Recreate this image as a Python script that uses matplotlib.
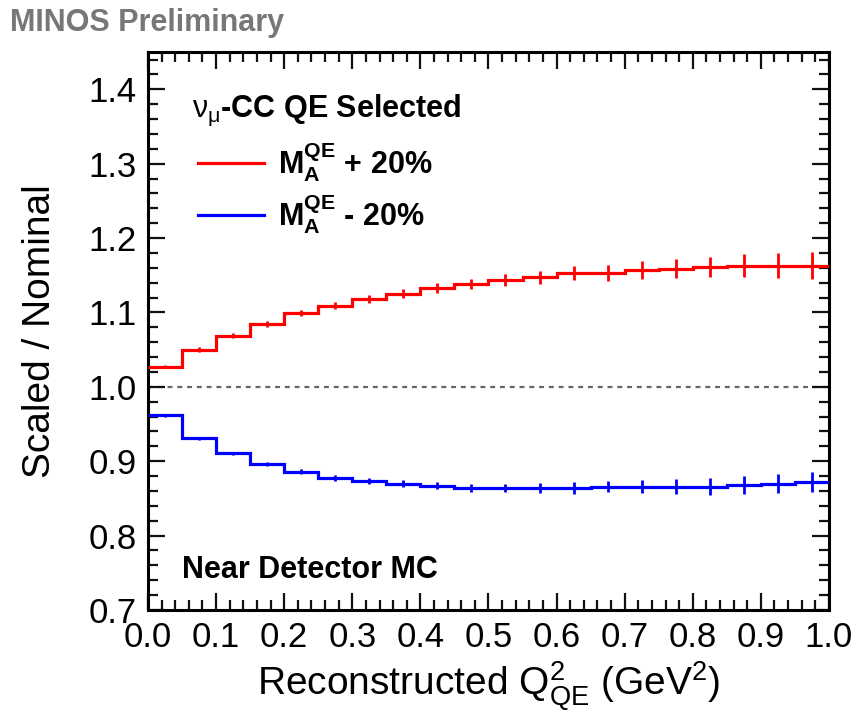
import numpy as np
import matplotlib
matplotlib.use("Agg")
import matplotlib.pyplot as plt
from matplotlib.ticker import MultipleLocator
from matplotlib.lines import Line2D

plt.rcParams['font.family'] = ['Liberation Sans', 'DejaVu Sans']
plt.rcParams['mathtext.fontset'] = 'custom'
plt.rcParams['mathtext.rm'] = 'Liberation Sans'
plt.rcParams['mathtext.it'] = 'Liberation Sans:italic'
plt.rcParams['mathtext.bf'] = 'Liberation Sans:bold'

# Q2 bins (GeV^2)
bin_edges = np.linspace(0.0, 1.0, 21)

# M_A + 20% ratio
ratio_up = [1.027, 1.050, 1.069, 1.084, 1.099, 1.109, 1.118, 1.125, 1.133, 1.138,
            1.144, 1.147, 1.153, 1.153, 1.157, 1.159, 1.161, 1.163, 1.163, 1.163]
err_up = [0.002, 0.003, 0.003, 0.004, 0.004, 0.005, 0.005, 0.006, 0.007, 0.007,
          0.008, 0.009, 0.010, 0.011, 0.012, 0.013, 0.014, 0.015, 0.017, 0.018]

# M_A - 20% ratio
ratio_down = [0.962, 0.931, 0.911, 0.896, 0.886, 0.877, 0.873, 0.870, 0.867, 0.864,
              0.864, 0.864, 0.864, 0.866, 0.866, 0.866, 0.866, 0.868, 0.870, 0.872]
err_down = [0.002, 0.002, 0.002, 0.003, 0.003, 0.004, 0.004, 0.005, 0.005, 0.006,
            0.006, 0.007, 0.008, 0.008, 0.009, 0.010, 0.011, 0.012, 0.013, 0.014]

centers = 0.5 * (bin_edges[:-1] + bin_edges[1:])

fig = plt.figure(figsize=(8.68, 7.24), dpi=100)
ax = fig.add_axes([0.1705, 0.1575, 0.955 - 0.1705, 0.928 - 0.1575])

ax.axhline(1.0, color='#666666', lw=1.6, ls=(0, (2.2, 2.2)), zorder=1)

ax.stairs(ratio_up, bin_edges, baseline=None, color='#ff0000', lw=2.3, zorder=3)
ax.errorbar(centers, ratio_up, yerr=err_up, fmt='none', ecolor='#ff0000',
            elinewidth=2, capsize=0, zorder=3)
ax.stairs(ratio_down, bin_edges, baseline=None, color='#0000ff', lw=2.3, zorder=3)
ax.errorbar(centers, ratio_down, yerr=err_down, fmt='none', ecolor='#0000ff',
            elinewidth=2, capsize=0, zorder=3)

ax.set_xlim(0.0, 1.0)
ax.set_ylim(0.7, 1.45)
ax.xaxis.set_major_locator(MultipleLocator(0.1))
ax.xaxis.set_minor_locator(MultipleLocator(0.02))
ax.yaxis.set_major_locator(MultipleLocator(0.1))
ax.yaxis.set_minor_locator(MultipleLocator(0.02))
ax.xaxis.set_major_formatter(matplotlib.ticker.FormatStrFormatter('%.1f'))
ax.yaxis.set_major_formatter(matplotlib.ticker.FormatStrFormatter('%.1f'))
ax.tick_params(which='both', direction='in', top=True, right=True, width=1.6,
               labelsize=25, color='#111111')
ax.tick_params(which='major', length=12)
ax.tick_params(which='minor', length=7)
ax.tick_params(axis='x', pad=8)
ax.tick_params(axis='y', pad=8)
for s in ax.spines.values():
    s.set_linewidth(2.2)

ax.set_xlabel(r'Reconstructed $\mathrm{Q^{2}_{QE}}$ ($\mathrm{GeV^{2}}$)', fontsize=28, labelpad=4)
ax.set_ylabel('Scaled / Nominal', fontsize=28, labelpad=22)

handles = [Line2D([], [], color='#ff0000', lw=2.3),
           Line2D([], [], color='#0000ff', lw=2.3)]
labels = [r'$\mathbf{M_{A}^{QE}}$ + 20%', r'$\mathbf{M_{A}^{QE}}$ - 20%']
leg = ax.legend(handles, labels, loc='upper left', bbox_to_anchor=(0.073, 0.842),
                frameon=False, handlelength=2.16, handletextpad=0.46,
                labelspacing=0.28, borderaxespad=0, borderpad=0,
                prop={'weight': 'bold', 'size': 22})
ax.text(0.065, 0.896, r'$\mathrm{\nu_{\mu}}$-CC QE Selected', transform=ax.transAxes,
        fontsize=22, fontweight='bold', va='center', ha='left')

ax.text(0.05, 0.071, 'Near Detector MC', transform=ax.transAxes,
        fontsize=22, fontweight='bold', va='center', ha='left')

fig.text(0.012, 0.968, 'MINOS Preliminary', fontsize=22, fontweight='bold',
         color='#777777', va='center', ha='left')

fig.savefig('out.png', dpi=100)
